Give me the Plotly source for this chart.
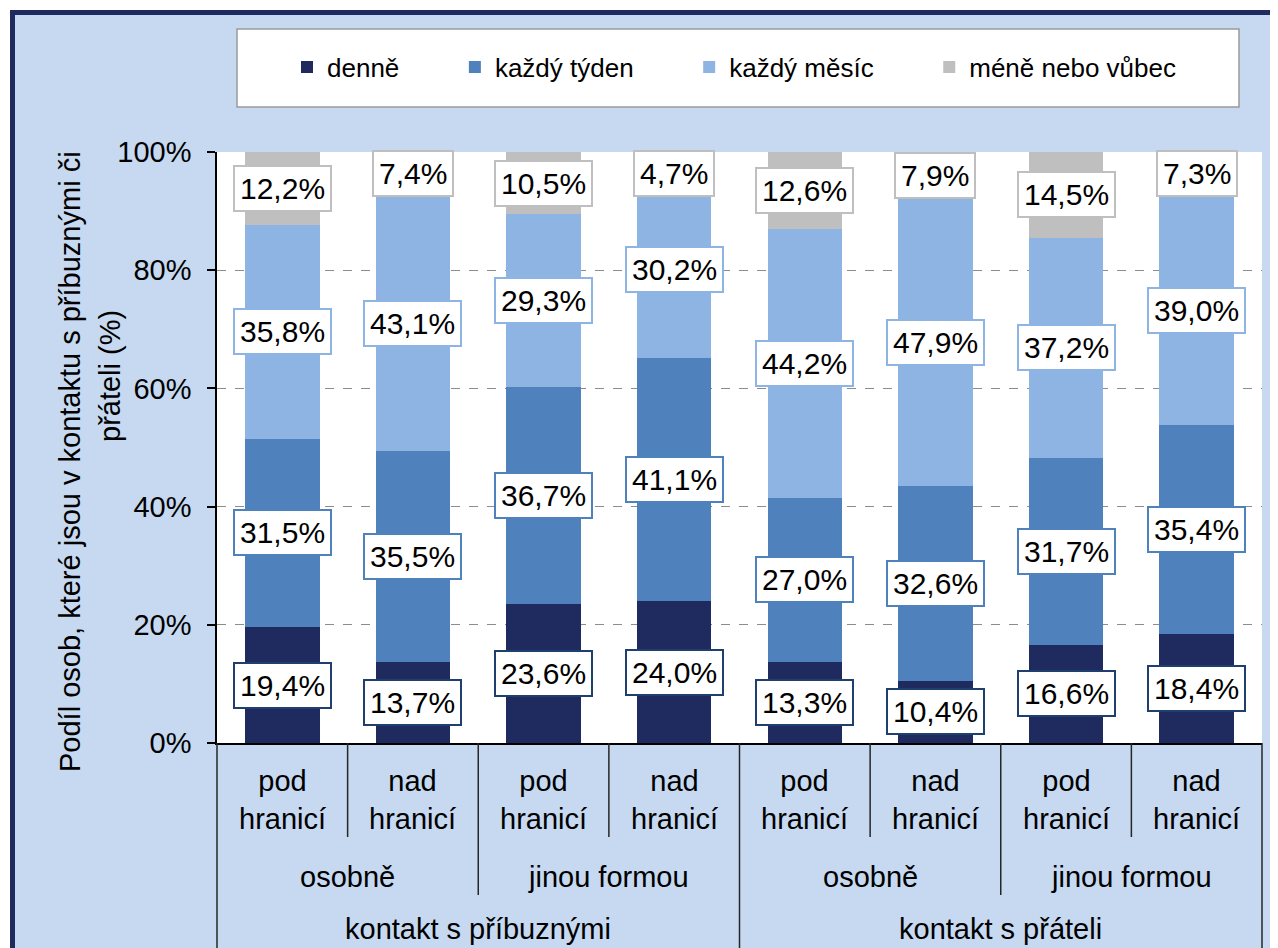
import plotly.graph_objects as go

# ---------------- data ----------------
level1 = ["pod<br>hranicí", "nad<br>hranicí"] * 4
level2 = ["osobně", "jinou formou", "osobně", "jinou formou"]
level3 = ["kontakt s příbuznými", "kontakt s přáteli"]

series_names = ["denně", "každý týden", "každý měsíc", "méně nebo vůbec"]
denne = [19.4, 13.7, 23.6, 24.0, 13.3, 10.4, 16.6, 18.4]
tyden = [31.5, 35.5, 36.7, 41.1, 27.0, 32.6, 31.7, 35.4]
mesic = [35.8, 43.1, 29.3, 30.2, 44.2, 47.9, 37.2, 39.0]
mene = [12.2, 7.4, 10.5, 4.7, 12.6, 7.9, 14.5, 7.3]
series_values = [denne, tyden, mesic, mene]

y_ticks = [0, 20, 40, 60, 80, 100]
y_ticktext = [f"{v}%" for v in y_ticks]

# ---------------- style ----------------
colors = ["#1F2A5E", "#4F81BD", "#8DB4E2", "#BFBFBF"]
label_borders = ["#1F3F6E", "#4F81BD", "#8DB4E2", "#BFBFBF"]
bg_blue = "#C6D9F0"
navy = "#1F2A5E"
FONT = "Liberation Sans, Arial, sans-serif"

OFF = 8  # page body margin
W, H = 1278, 948
L, R, T, B = 217, 16, 152, 205  # in page pixels
plot_w = W - L - R
plot_h = H - T - B


def px_x(p):
    return (p - L) / plot_w


def px_y(p):
    return (H - B - p) / plot_h


n = len(level1)
x_idx = list(range(n))


def cat_x(v):
    # category coordinate -> paper x (range -0.5 .. n-0.5)
    return (v + 0.5) / n


fig = go.Figure()
legend_pad = "\u00a0" * 7
for k, (name, vals) in enumerate(zip(series_names, series_values)):
    fig.add_trace(go.Bar(
        x=x_idx, y=vals, name=name + (legend_pad if k < 3 else ""),
        marker=dict(color=colors[k], line=dict(width=0)),
        hoverinfo="skip",
    ))

annotations = []
shapes = []

# data labels centred in the normalised segments
for i in range(n):
    total = sum(s[i] for s in series_values)
    cum = 0.0
    for k, s in enumerate(series_values):
        v = s[i]
        lo = cum / total * 100
        cum += v
        hi = cum / total * 100
        cy = min((lo + hi) / 2, 96.4)
        annotations.append(dict(
            x=i, y=cy, xref="x", yref="y", xanchor="center", yanchor="middle",
            text=f"{v:.1f}".replace(".", ",") + "%",
            showarrow=False,
            font=dict(family=FONT, size=30, color="black"),
            bgcolor="white", bordercolor=label_borders[k], borderwidth=2,
            borderpad=5,
        ))

txt_font = dict(family=FONT, size=29, color="black")
# multi-level category axis labels
for i, t in enumerate(level1):
    annotations.append(dict(x=cat_x(i), y=px_y(800), xref="paper", yref="paper",
                            xanchor="center", yanchor="middle",
                            text=t, showarrow=False, font=txt_font))
for j, t in enumerate(level2):
    annotations.append(dict(x=cat_x(2 * j + 0.5), y=px_y(877), xref="paper", yref="paper",
                            xanchor="center", yanchor="middle",
                            text=t, showarrow=False, font=txt_font))
for j, t in enumerate(level3):
    annotations.append(dict(x=cat_x(4 * j + 1.5), y=px_y(929), xref="paper", yref="paper",
                            xanchor="center", yanchor="middle",
                            text=t, showarrow=False, font=txt_font))

# separators
sep_col = "#262626"
for b in [0.5, 2.5, 4.5, 6.5]:
    shapes.append(dict(type="line", xref="paper", yref="paper",
                       x0=cat_x(b), x1=cat_x(b), y0=0, y1=px_y(837),
                       line=dict(color=sep_col, width=1.5)))
for b in [1.5, 5.5]:
    shapes.append(dict(type="line", xref="paper", yref="paper",
                       x0=cat_x(b), x1=cat_x(b), y0=0, y1=px_y(895),
                       line=dict(color=sep_col, width=1.5)))
for b in [-0.5, 3.5, 7.5]:
    shapes.append(dict(type="line", xref="paper", yref="paper",
                       x0=cat_x(b), x1=cat_x(b), y0=0, y1=px_y(970),
                       line=dict(color=sep_col, width=1.5)))

# y-axis title (two lines)
annotations.append(dict(x=px_x(70), y=px_y(462), xref="paper", yref="paper",
                        xanchor="center", yanchor="middle",
                        text="Podíl osob, které jsou v kontaktu s příbuznými či",
                        textangle=-90, showarrow=False, font=txt_font))
annotations.append(dict(x=px_x(110), y=px_y(376), xref="paper", yref="paper",
                        xanchor="center", yanchor="middle",
                        text="přáteli (%)",
                        textangle=-90, showarrow=False, font=txt_font))

# outer frame: white outside, navy border
shapes.append(dict(type="rect", xref="paper", yref="paper", layer="below",
                   x0=px_x(-20), x1=px_x(10), y0=px_y(H + 20), y1=px_y(-20),
                   fillcolor="white", line=dict(width=0)))
shapes.append(dict(type="rect", xref="paper", yref="paper", layer="below",
                   x0=px_x(-20), x1=px_x(W + 20), y0=px_y(10), y1=px_y(-20),
                   fillcolor="white", line=dict(width=0)))
shapes.append(dict(type="line", xref="paper", yref="paper",
                   x0=px_x(12.5), x1=px_x(12.5), y0=px_y(10), y1=px_y(H + 20),
                   line=dict(color=navy, width=5)))
shapes.append(dict(type="line", xref="paper", yref="paper",
                   x0=px_x(10), x1=px_x(W + 20), y0=px_y(12.5), y1=px_y(12.5),
                   line=dict(color=navy, width=5)))

# legend box
shapes.append(dict(type="rect", xref="paper", yref="paper", layer="below",
                   x0=px_x(237), x1=px_x(1239), y0=px_y(107), y1=px_y(29),
                   fillcolor="white", line=dict(color="#9A9A9A", width=1.5)))

fig.update_layout(
    width=W - OFF, height=H - OFF,
    margin=dict(l=L - OFF, r=R, t=T - OFF, b=B, pad=0),
    paper_bgcolor=bg_blue,
    plot_bgcolor="white",
    barmode="stack",
    barnorm="percent",
    bargap=0.43,
    showlegend=True,
    legend=dict(orientation="h", x=px_x(287), xanchor="left",
                y=px_y(67), yanchor="middle",
                bgcolor="rgba(0,0,0,0)",
                font=dict(family=FONT, size=26, color="black"),
                traceorder="normal"),
    xaxis=dict(range=[-0.5, n - 0.5], showticklabels=False, ticks="",
               showgrid=False, zeroline=False, showline=True,
               linecolor="black", linewidth=1.5, fixedrange=True),
    yaxis=dict(range=[0, 100], tickmode="array", tickvals=y_ticks, ticktext=y_ticktext,
               ticks="outside", ticklen=8, tickcolor="black", tickwidth=1.5,
               ticklabelstandoff=10,
               tickfont=dict(family=FONT, size=29, color="black"),
               showline=True, linecolor="black", linewidth=1.5,
               showgrid=True, gridcolor="#8C8C8C", griddash="dash", gridwidth=1,
               zeroline=False, fixedrange=True),
    annotations=annotations,
    shapes=shapes,
    font=dict(family=FONT),
)

fig.write_html("out.html")
